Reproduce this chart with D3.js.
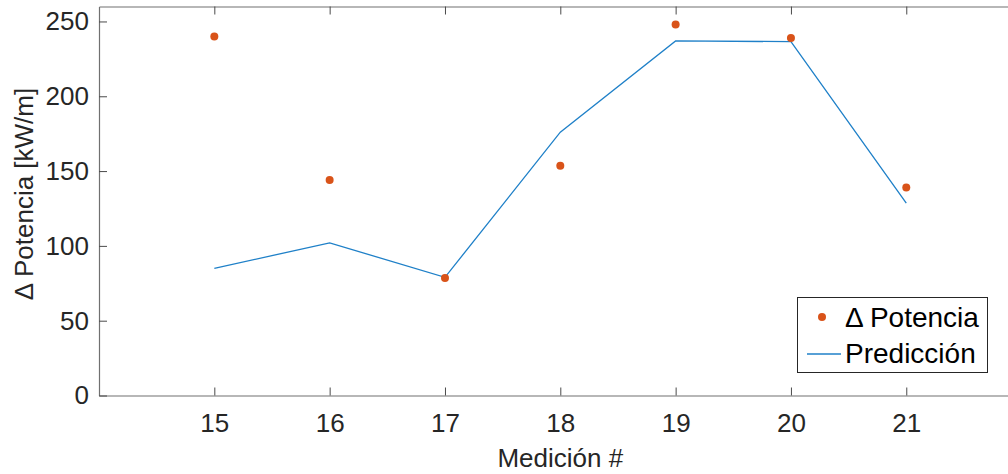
<!DOCTYPE html>
<html>
<head>
<meta charset="utf-8">
<script src="https://cdn.jsdelivr.net/npm/d3@7"></script>
<style>
  body { margin: 0; background: #fff; }
  svg { display: block; font-family: "Liberation Sans", Arial, sans-serif; }
</style>
</head>
<body>
<svg></svg>
<script>
let w = 1008;
let h = 474;

// data
const mediciones = [15, 16, 17, 18, 19, 20, 21];
const potencia   = [240, 144, 78.5, 153.5, 248, 239, 139];
const prediccion = [85, 102, 79, 176, 237, 236.5, 128.5];
const xTicks = [15, 16, 17, 18, 19, 20, 21];
const yTicks = [0, 50, 100, 150, 200, 250];

const padLeft = 99, padTop = 6.5, padBottom = 395.5, padRight = 1021.6;
const axisColor = '#262626';
const orange = '#D95319';
const blue = '#1f80c8';

const svg = d3.select('svg')
  .attr('width', w)
  .attr('height', h)

const xScale = d3.scaleLinear()
  .domain([14, 22])
  .range([padLeft, padRight])

const yScale = d3.scaleLinear()
  .domain([0, 260])
  .range([padBottom, padTop])

// Axes (MATLAB style, ticks pointing inward)
const xAxis = d3.axisBottom(xScale).tickValues(xTicks).tickSizeInner(-8).tickSizeOuter(0).tickPadding(17)
const gx = svg.append('g')
  .attr('transform', 'translate(0,' + padBottom + ')')
  .call(xAxis)

const xTop = d3.axisTop(xScale).tickValues(xTicks).tickSizeInner(-8).tickSizeOuter(0).tickFormat('')
const gxt = svg.append('g')
  .attr('transform', 'translate(0,' + padTop + ')')
  .call(xTop)

const yAxis = d3.axisLeft(yScale).tickValues(yTicks).tickSizeInner(-8).tickSizeOuter(0).tickPadding(10)
const gy = svg.append('g')
  .attr('transform', 'translate(' + padLeft + ',0)')
  .call(yAxis)

;[gx, gxt, gy].forEach(g => {
  g.select('.domain').attr('stroke', '#707070').attr('stroke-width', 1.2)
  g.selectAll('.tick line').attr('stroke', '#4a4a4a').attr('stroke-width', 1)
  g.selectAll('.tick text')
    .attr('fill', axisColor)
    .style('font-size', '26px')
    .style('font-family', '"Liberation Sans", Arial, sans-serif')
})
gx.selectAll('.tick text').attr('dy', '0.75em')

// Prediction line
const line = d3.line()
  .x((d, i) => xScale(mediciones[i]))
  .y(d => yScale(d))

svg.append('path')
  .datum(prediccion)
  .attr('fill', 'none')
  .attr('stroke', blue)
  .attr('stroke-width', 1.3)
  .attr('d', line)

// Measured points
svg.selectAll('circle.pt')
  .data(potencia)
  .enter()
  .append('circle')
  .attr('class', 'pt')
  .attr('cx', (d, i) => xScale(mediciones[i]))
  .attr('cy', d => yScale(d))
  .attr('r', 4)
  .attr('fill', orange)

// Axis labels
svg.append('text')
  .attr('x', (padLeft + padRight) / 2)
  .attr('y', 467)
  .attr('text-anchor', 'middle')
  .attr('fill', axisColor)
  .style('font-size', '26px')
  .text('Medición #')

svg.append('text')
  .attr('transform', 'translate(33,194) rotate(-90)')
  .attr('text-anchor', 'middle')
  .attr('fill', axisColor)
  .style('font-size', '26px')
  .text('Δ Potencia [kW/m]')

// Legend
const legend = svg.append('g')
legend.append('rect')
  .attr('x', 797.5).attr('y', 297.5)
  .attr('width', 190).attr('height', 75)
  .attr('fill', '#fff')
  .attr('stroke', axisColor)
  .attr('stroke-width', 1)

legend.append('circle')
  .attr('cx', 822).attr('cy', 317).attr('r', 4).attr('fill', orange)
legend.append('text')
  .attr('x', 845).attr('y', 327)
  .attr('fill', '#000')
  .style('font-size', '28px')
  .text('Δ Potencia')

legend.append('line')
  .attr('x1', 807).attr('x2', 841)
  .attr('y1', 354).attr('y2', 354)
  .attr('stroke', blue).attr('stroke-width', 1.3)
legend.append('text')
  .attr('x', 845).attr('y', 363)
  .attr('fill', '#000')
  .style('font-size', '28px')
  .text('Predicción')
</script>
</body>
</html>
